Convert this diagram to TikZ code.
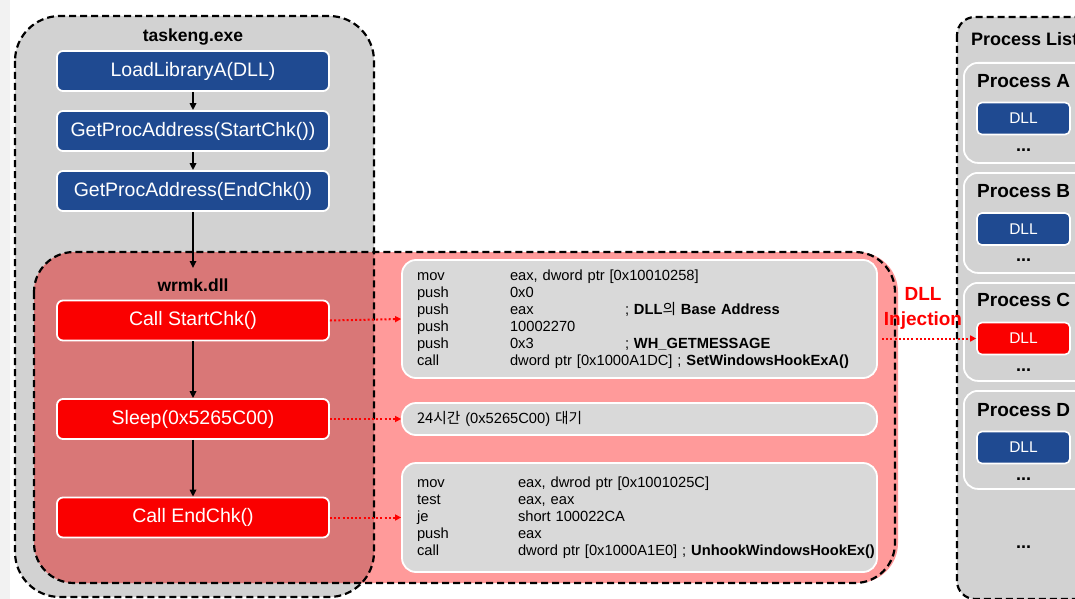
\documentclass[tikz,border=0pt]{standalone}
\usepackage{fontspec}
\setmainfont{Liberation Sans}
\newfontfamily\kor{Noto Sans CJK KR}
\usetikzlibrary{arrows.meta}

\definecolor{panelgray}{HTML}{D2D2D2}
\definecolor{codegray}{HTML}{D9D9D9}
\definecolor{apiblue}{HTML}{1F4A91}
\definecolor{callred}{HTML}{FA0000}
\definecolor{dllpink}{HTML}{FF9A9A}
\definecolor{dllshade}{HTML}{D97777}

\newlength\mnemw
\newlength\operw
\newcommand\asm[3]{\makebox[\mnemw][l]{#1}\makebox[\operw][l]{#2}#3}

\tikzset{
  x=1pt, y=-1pt,
  frame/.style={draw=black, line width=2.2pt, dash pattern=on 7pt off 4pt},
  callbox/.style={rounded corners=6pt, draw=white, line width=1.8pt,
    minimum width=272pt, minimum height=40pt, inner sep=0pt, text=white,
    font=\fontsize{19.5}{22}\selectfont},
  apibox/.style={callbox, fill=apiblue},
  stepred/.style={callbox, fill=callred},
  codebox/.style={rounded corners=14pt, draw=white, line width=1.8pt, fill=codegray,
    minimum width=475pt, text width=445pt, inner xsep=15pt, inner ysep=0pt,
    align=left, font=\fontsize{14.7}{17}\selectfont},
  procbox/.style={rounded corners=14pt, draw=white, line width=1.8pt, fill=panelgray,
    minimum width=180pt, anchor=north west, inner sep=0pt},
  dllblue/.style={rounded corners=5pt, draw=white, line width=1.6pt, fill=apiblue,
    minimum width=93pt, minimum height=32pt, inner sep=0pt, text=white,
    font=\fontsize{15.5}{18}\selectfont},
  dllred/.style={dllblue, fill=callred},
  title/.style={font=\bfseries\fontsize{17.5}{20}\selectfont, inner sep=0pt},
  proctitle/.style={font=\bfseries\fontsize{19}{22}\selectfont, inner sep=0pt, anchor=west},
  dots/.style={font=\bfseries\fontsize{18}{20}\selectfont, inner sep=0pt},
  flowarrow/.style={-{Triangle[length=7pt,width=6.5pt]}, line width=1.6pt},
  callarrow/.style={-{Triangle[length=6pt,width=6pt]}, draw=red, line width=2pt,
    dash pattern=on 2pt off 2.2pt},
}

\begin{document}
\begin{tikzpicture}
\useasboundingbox (0,0) rectangle (1075,599);
\clip (0,0) rectangle (1075,599);

% faint margin strip on the left
\fill[black!5] (0,0) rectangle (10,599);

% taskeng.exe process area
\fill[panelgray, rounded corners=45pt] (15,16) rectangle (374,597);
% wrmk.dll module area, darker where it lies over the process area
\fill[dllpink, rounded corners=40pt] (34,252) rectangle (898,583);
\begin{scope}
  \clip[rounded corners=45pt] (15,16) rectangle (374,597);
  \fill[dllshade, rounded corners=40pt] (34,252) rectangle (898,583);
\end{scope}
\draw[frame, rounded corners=45pt] (15,16) rectangle (374,597);
\draw[frame, rounded corners=40pt] (34,252) rectangle (895,583);

% process list panel
\fill[panelgray, rounded corners=18pt] (957,17) rectangle (1140,599);
\draw[frame, rounded corners=18pt] (957,17) rectangle (1140,599);

% taskeng.exe calls
\node[title] (taskeng) at (193,37) {taskeng.exe};
\node[apibox] (load) at (193,71) {LoadLibraryA(DLL)};
\node[apibox] (getstart) at (193,131) {GetProcAddress(StartChk())};
\node[apibox] (getend) at (193,191) {GetProcAddress(EndChk())};
\coordinate (intodll) at (193,268);

\draw[flowarrow] (load) -- (getstart);
\draw[flowarrow] (getstart) -- (getend);
\draw[flowarrow] (getend) -- (intodll);

% wrmk.dll steps
\node[title] (wrmk) at (193,285) {wrmk.dll};
\node[stepred] (startchk) at (193,320.5) {Call StartChk()};
\node[stepred] (sleep) at (193,419) {Sleep(0x5265C00)};
\node[stepred] (endchk) at (193,517.5) {Call EndChk()};

\draw[flowarrow] (startchk) -- (sleep);
\draw[flowarrow] (sleep) -- (endchk);

% disassembly of each step
\node[codebox, minimum height=118pt] (code1) at (639.5,319) {%
  \setlength\mnemw{93pt}\setlength\operw{115pt}%
  \asm{mov}{eax, dword ptr [0x10010258]}{}\\
  \asm{push}{0x0}{}\\
  \asm{push}{eax}{; \textbf{DLL}{\kor 의} \textbf{Base Address}}\\
  \asm{push}{10002270}{}\\
  \asm{push}{0x3}{; \textbf{WH\_GETMESSAGE}}\\
  \asm{call}{dword ptr [0x1000A1DC] ; \textbf{SetWindowsHookExA()}}{}};

\node[codebox, minimum height=32pt] (code2) at (639.5,419) {%
  {\kor 24시간} (0x5265C00) {\kor 대기}};

\node[codebox, minimum height=109pt] (code3) at (639.5,517.5) {%
  \setlength\mnemw{101pt}\setlength\operw{115pt}%
  \asm{mov}{eax, dwrod ptr [0x1001025C]}{}\\
  \asm{test}{eax, eax}{}\\
  \asm{je}{short 100022CA}{}\\
  \asm{push}{eax}{}\\
  \asm{call}{dword ptr [0x1000A1E0] ; \textbf{UnhookWindowsHookEx()}}{}};

\draw[callarrow] (startchk.east) -- (code1.west);
\draw[callarrow] (sleep.east) -- (code2.west);
\draw[callarrow] (endchk.east) -- (code3.west);

% process list
\node[font=\bfseries\fontsize{18}{20}\selectfont, inner sep=0pt, anchor=west]
  (plist) at (971,39) {Process List};

\node[procbox, minimum height=100pt] (procA) at (963,62) {};
\node[proctitle] (procAname) at (977,81) {Process A};
\node[dllblue] (dllA) at (1023.5,118.5) {DLL};
\node[dots] (dotsA) at (1023.5,150) {...};

\node[procbox, minimum height=100pt] (procB) at (963,172) {};
\node[proctitle] (procBname) at (977,191) {Process B};
\node[dllblue] (dllB) at (1023.5,229) {DLL};
\node[dots] (dotsB) at (1023.5,260) {...};

\node[procbox, minimum height=98pt] (procC) at (963,282) {};
\node[proctitle] (procCname) at (977,300) {Process C};
\node[dllred] (dllC) at (1023.5,338.5) {DLL};
\node[dots] (dotsC) at (1023.5,370) {...};

\node[procbox, minimum height=98pt] (procD) at (963,390) {};
\node[proctitle] (procDname) at (977,410) {Process D};
\node[dllblue] (dllD) at (1023.5,447.5) {DLL};
\node[dots] (dotsD) at (1023.5,479) {...};

\node[dots] (dotsMore) at (1023.5,547) {...};

% injection into Process C
\node[font=\bfseries\fontsize{19}{25}\selectfont, text=red, align=center, inner sep=0pt]
  (inject) at (923,308) {DLL\\Injection};
\coordinate (injfrom) at (882,338.5);
\draw[callarrow] (injfrom) -- (dllC.west);
\end{tikzpicture}
\end{document}
